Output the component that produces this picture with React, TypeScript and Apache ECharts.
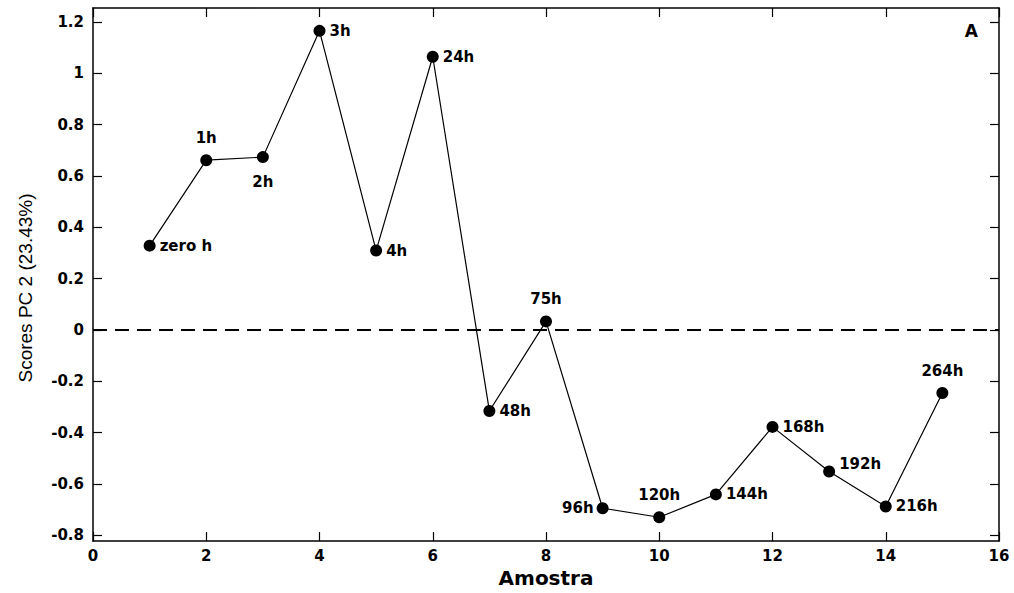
import React, { useEffect, useRef } from "react";
import * as echarts from "echarts";

const amostra = [1, 2, 3, 4, 5, 6, 7, 8, 9, 10, 11, 12, 13, 14, 15];
const scores = [0.328, 0.661, 0.673, 1.165, 0.309, 1.064, -0.316, 0.033, -0.695, -0.73, -0.641, -0.378, -0.552, -0.688, -0.246];
const labels = ["zero h", "1h", "2h", "3h", "4h", "24h", "48h", "75h", "96h", "120h", "144h", "168h", "192h", "216h", "264h"];
const labelPos = ["right", "top", "bottom", "right", "right", "right", "right", "top", "left", "top", "right", "right", "right", "right", "top"];
const yTicks = [-0.8, -0.6, -0.4, -0.2, 0, 0.2, 0.4, 0.6, 0.8, 1, 1.2];

export default function App() {
  const ref = useRef<HTMLDivElement>(null);
  useEffect(() => {
    const chart = echarts.init(ref.current!, null, { renderer: "svg" });
    const bold = "DejaVu Sans, Verdana, sans-serif";
    const plain = "Liberation Sans, Arial, sans-serif";
    const axisCommon = {
      axisLine: { show: true, onZero: false, lineStyle: { color: "#000", width: 1.5 } },
      splitLine: { show: false },
    };
    const tick = { show: true, inside: true, length: 9, lineStyle: { color: "#000", width: 1.2 } };
    const distFor = (p: string) => (p === "top" ? 9 : p === "bottom" ? 11 : p === "left" ? 3 : 4);
    chart.setOption({
      animation: false,
      backgroundColor: "#fff",
      grid: { left: 93, right: 15, top: 8, bottom: 49 },
      xAxis: [
        {
          type: "value", min: 0, max: 16, interval: 2,
          ...axisCommon,
          axisTick: tick,
          axisLabel: { color: "#000", fontFamily: bold, fontWeight: "bold", fontSize: 15, margin: 7 },
          name: "Amostra", nameLocation: "middle", nameGap: 24,
          nameTextStyle: { color: "#000", fontFamily: bold, fontWeight: "bold", fontSize: 20 },
        },
        {
          type: "value", min: 0, max: 16, interval: 2, position: "top",
          ...axisCommon,
          axisTick: tick,
          axisLabel: { show: false },
        },
      ],
      yAxis: [
        {
          type: "value", min: -0.823, max: 1.254,
          ...axisCommon,
          axisTick: { ...tick, customValues: yTicks },
          axisLabel: {
            color: "#000", fontFamily: bold, fontWeight: "bold", fontSize: 15, margin: 9,
            customValues: yTicks,
            formatter: (v: number) => String(Math.round(v * 10) / 10),
          },
        },
        {
          type: "value", min: -0.823, max: 1.254, position: "right",
          ...axisCommon,
          axisTick: { ...tick, customValues: yTicks },
          axisLabel: { show: false },
        },
      ],
      graphic: [
        {
          type: "text", right: 36, top: 22,
          style: { text: "A", fill: "#000", font: `bold 17px ${bold}` },
        },
        {
          type: "text", x: 25, y: 288, rotation: Math.PI / 2,
          style: {
            text: "Scores PC 2 (23.43%)", fill: "#000", font: `19px ${plain}`,
            align: "center", verticalAlign: "middle",
          },
        },
      ],
      series: [
        {
          type: "line",
          data: amostra.map((x, i) => ({
            value: [x, scores[i]],
            label: {
              position: labelPos[i] as any,
              distance: distFor(labelPos[i]),
              offset: labels[i] === "192h" ? [0, -8] : [0, 0],
            },
          })),
          symbol: "circle", symbolSize: 12,
          itemStyle: { color: "#000" },
          lineStyle: { color: "#000", width: 1.2 },
          label: {
            show: true, color: "#000", fontFamily: bold, fontWeight: "bold", fontSize: 15,
            formatter: (p: any) => labels[p.dataIndex],
          },
          markLine: {
            silent: true, symbol: "none", label: { show: false },
            lineStyle: { color: "#000", type: [14, 8], width: 2 },
            data: [[{ coord: [0, 0] }, { coord: [16, 0] }]],
          },
        },
      ],
    });
    return () => chart.dispose();
  }, []);
  return <div ref={ref} style={{ position: "fixed", left: 0, top: 0, width: 1014, height: 593 }} />;
}
